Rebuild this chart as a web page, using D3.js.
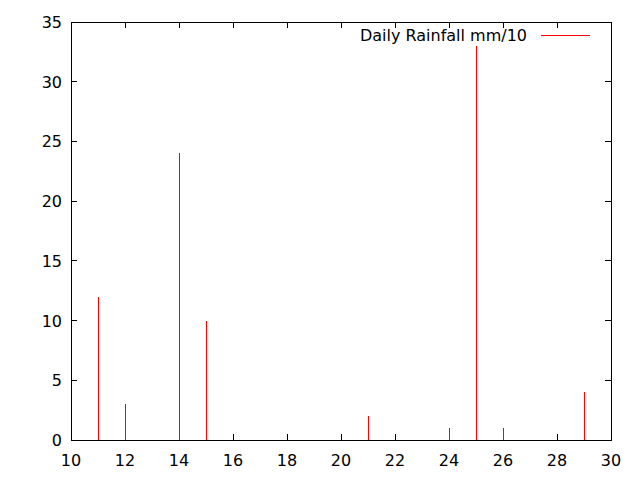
<!DOCTYPE html>
<html><head><meta charset="utf-8">
<script src="https://cdn.jsdelivr.net/npm/d3@7"></script>
<style>body{margin:0;background:#fff}svg{display:block}</style>
</head><body>
<script>
const days = [11, 12, 14, 15, 21, 24, 25, 26, 29];
const rainfall = [12, 3, 24, 10, 2, 1, 33, 1, 4];
const xTicks = [10, 12, 14, 16, 18, 20, 22, 24, 26, 28, 30];
const yTicks = [0, 5, 10, 15, 20, 25, 30, 35];
const legendLabel = "Daily Rainfall mm/10";

const W = 640, H = 480;
const L = 71, R = 611, T = 22, B = 440;
const svg = d3.select("body").append("svg").attr("width", W).attr("height", H)
  .style("font-family", "'DejaVu Sans', sans-serif");
const x = d3.scaleLinear().domain([10, 30]).range([L, R]);
const y = d3.scaleLinear().domain([0, 35]).range([B, T]);
const tl = 6;
const fs = 16;

const g = svg.append("g").attr("shape-rendering", "crispEdges");
xTicks.forEach(v => {
  g.append("line").attr("x1", x(v)).attr("x2", x(v)).attr("y1", B).attr("y2", B - tl).attr("stroke", "#000");
  g.append("line").attr("x1", x(v)).attr("x2", x(v)).attr("y1", T).attr("y2", T + tl).attr("stroke", "#000");
  svg.append("text").attr("x", x(v)).attr("y", 466).attr("text-anchor", "middle")
    .attr("font-size", fs).attr("fill", "#000").text(v);
});
yTicks.forEach(v => {
  g.append("line").attr("x1", L).attr("x2", L + tl).attr("y1", y(v)).attr("y2", y(v)).attr("stroke", "#000");
  g.append("line").attr("x1", R).attr("x2", R - tl).attr("y1", y(v)).attr("y2", y(v)).attr("stroke", "#000");
  svg.append("text").attr("x", 62).attr("y", y(v) + 6).attr("text-anchor", "end")
    .attr("font-size", fs).attr("fill", "#000").text(v);
});
g.selectAll("line.imp").data(days.map((d, i) => ({d, v: rainfall[i]}))).enter()
  .append("line").attr("class", "imp")
  .attr("x1", d => x(d.d)).attr("x2", d => x(d.d))
  .attr("y1", y(0)).attr("y2", d => y(d.v))
  .attr("stroke", "#ff0000").attr("stroke-width", 1);
g.append("rect").attr("x", L).attr("y", T).attr("width", R - L).attr("height", B - T)
  .attr("fill", "none").attr("stroke", "#000");
svg.append("text").attr("x", 527).attr("y", 41).attr("text-anchor", "end")
  .attr("font-size", fs).attr("fill", "#000").text(legendLabel);
g.append("line").attr("x1", 541).attr("x2", 590).attr("y1", 35).attr("y2", 35).attr("stroke", "#ff0000");
</script>
</body></html>
